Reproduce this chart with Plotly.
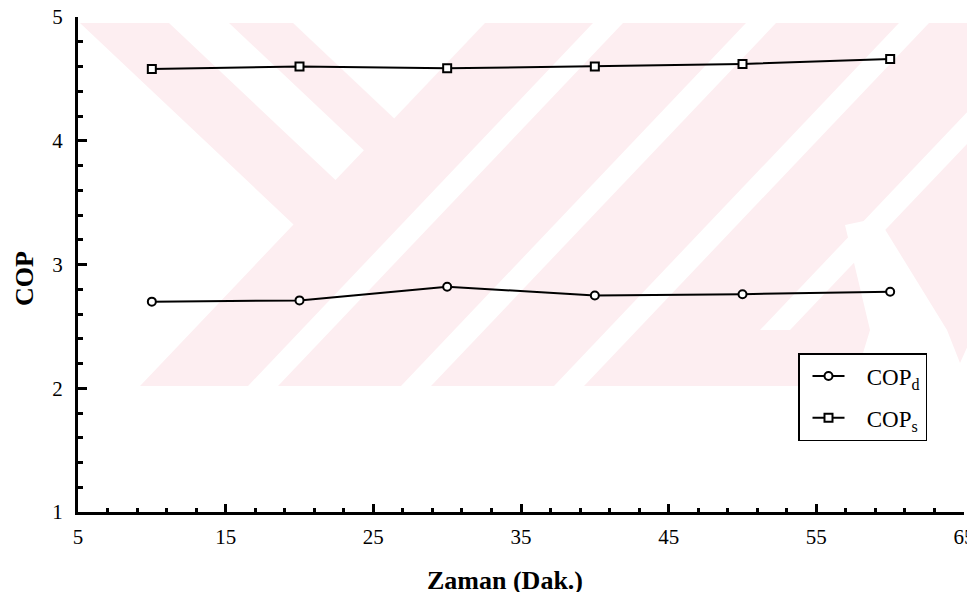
import plotly.graph_objects as go

# ---- data ----
zaman = [10, 20, 30, 40, 50, 60]
cop_d = [2.70, 2.71, 2.82, 2.75, 2.76, 2.78]
cop_s = [4.58, 4.60, 4.585, 4.60, 4.62, 4.66]
x_ticks = [5, 15, 25, 35, 45, 55, 65]
y_ticks = [1, 2, 3, 4, 5]

# ---- layout geometry (screen pixels) ----
OFF = 8  # page body margin of the browser
SW, SH = 975, 600
PL, PR, PT, PB = 78, 964, 17, 512          # plot box in screen pixels
W, H = SW - OFF, SH - 2 * OFF
ML, MT = PL - OFF, PT - OFF
MR, MB = (OFF + W) - PR, (OFF + H) - PB
PW, PH = W - ML - MR, H - MT - MB


def px(x, y):
    return (x - PL) / PW, 1 - (y - PT) / PH


def poly(points):
    pts = [px(x, y) for x, y in points]
    return "M " + " L ".join(f"{a:.5f},{b:.5f}" for a, b in pts) + " Z"


PINK = "#fdeef1"
WHITE = "#ffffff"

# faint background watermark (decoration only)
wm_pink = [
    [(80, 23), (975, 23), (975, 386), (140, 386), (293.5, 224.4)],
]
wm_white = [
    [(169, 23), (229, 23), (363.9, 150.3), (335.5, 180.1)],
    [(293, 23), (485, 23), (394.2, 118.5)],
    [(845, 225), (878, 218), (947, 330), (960, 363), (975, 330),
     (975, 386), (853, 386), (870, 330)],
    [(760, 330), (790, 330), (1082, 23), (1052, 23)],
]
for b in [248, 401, 554]:
    wm_white.append([(b, 386), (b + 30, 386), (b + 30 + 345, 23), (b + 345, 23)])

shapes = []
for p in wm_pink:
    shapes.append(dict(type="path", path=poly(p), xref="paper", yref="paper",
                       fillcolor=PINK, line=dict(width=0), layer="below"))
for p in wm_white:
    shapes.append(dict(type="path", path=poly(p), xref="paper", yref="paper",
                       fillcolor=WHITE, line=dict(width=0), layer="below"))

FONT = "Liberation Serif"
GAP = "&nbsp;&nbsp;&nbsp;"

fig = go.Figure()
fig.add_trace(go.Scatter(
    x=zaman, y=cop_d, mode="lines+markers", name=GAP + "COP<sub>d</sub>",
    legendgroup="d",
    line=dict(color="black", width=2),
    marker=dict(symbol="circle", size=8, color="white",
                line=dict(color="black", width=2)),
))
fig.add_trace(go.Scatter(
    x=zaman, y=cop_s, mode="lines+markers", name=GAP + "COP<sub>s</sub>",
    legendgroup="s",
    line=dict(color="black", width=2),
    marker=dict(symbol="square", size=8, color="white",
                line=dict(color="black", width=2)),
))

lx, ly = px(798, 353)
fig.update_layout(
    width=W, height=H,
    margin=dict(l=ML, r=MR, t=MT, b=MB, autoexpand=False),
    paper_bgcolor="white", plot_bgcolor="rgba(0,0,0,0)",
    font=dict(family=FONT, size=20, color="black"),
    showlegend=True,
    legend=dict(
        x=lx, y=ly, xanchor="left", yanchor="top",
        bgcolor="white", bordercolor="black", borderwidth=1.5,
        font=dict(family=FONT, size=23, color="black"),
        tracegroupgap=9, itemwidth=32, indentation=8,
    ),
    shapes=shapes,
    annotations=[
        dict(text="<b>Zaman (Dak.)</b>", xref="paper", yref="paper",
             x=px(505, 0)[0], y=px(0, 580)[1], showarrow=False,
             font=dict(family=FONT, size=26, color="black"),
             xanchor="center", yanchor="middle"),
        dict(text="<b>COP</b>", xref="paper", yref="paper",
             x=px(24, 0)[0], y=px(0, 279)[1], showarrow=False, textangle=-90,
             font=dict(family=FONT, size=26, color="black"),
             xanchor="center", yanchor="middle"),
    ],
)

fig.update_xaxes(
    range=[5, 65], tickmode="array", tickvals=x_ticks,
    ticktext=[str(v) for v in x_ticks], automargin=False,
    ticklabeloverflow="allow",
    showgrid=False, zeroline=False,
    showline=True, linecolor="black", linewidth=3,
    ticks="inside", ticklen=8, tickwidth=2.5, tickcolor="black",
    minor=dict(dtick=2, tick0=5, ticks="inside", ticklen=4, tickwidth=2.5,
               tickcolor="black", showgrid=False),
    ticklabelstandoff=4,
    tickfont=dict(family=FONT, size=21),
)
fig.update_yaxes(
    range=[1, 5], tickmode="array", tickvals=y_ticks,
    ticktext=[str(v) for v in y_ticks], automargin=False,
    ticklabeloverflow="allow",
    showgrid=False, zeroline=False,
    showline=True, linecolor="black", linewidth=3,
    ticks="inside", ticklen=9, tickwidth=2.5, tickcolor="black",
    minor=dict(dtick=0.2, tick0=1, ticks="inside", ticklen=5, tickwidth=2.5,
               tickcolor="black", showgrid=False),
    ticklabelstandoff=8,
    tickfont=dict(family=FONT, size=21),
)

fig.write_html("out.html")
